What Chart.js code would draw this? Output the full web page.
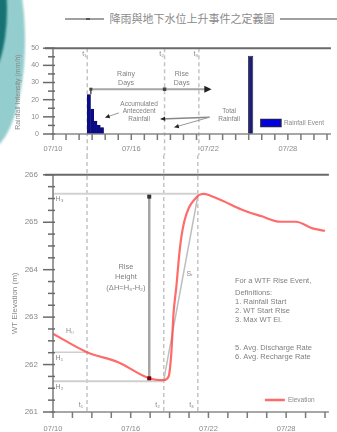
<!DOCTYPE html>
<html>
<head>
<meta charset="utf-8">
<script src="https://cdn.jsdelivr.net/npm/chart.js@4/dist/chart.umd.min.js"></script>
<style>
html,body{margin:0;padding:0;background:#fff;width:337px;height:432px;overflow:hidden;position:relative;font-family:"Liberation Sans",Arial,sans-serif}
#sw1{position:absolute;left:-51px;top:-70px;width:76px;height:220px;border-radius:50%;background:#94cdcd;filter:blur(0.8px)}
#sw2{position:absolute;left:-40px;top:-60px;width:47px;height:140px;border-radius:50%;background:#177373;filter:blur(0.8px)}
#tline{position:absolute;left:65px;top:18px;width:272px;height:2px;background:#a0a0a0}
#tdot{position:absolute;left:86px;top:18px;width:4px;height:2px;background:#555}
#title{position:absolute;top:11px;left:104px;width:176px;text-align:center;font-family:"Noto Sans CJK TC","Noto Sans CJK SC",sans-serif;font-size:11px;line-height:15px;color:#8a8a8a;background:#fff}
#c1{position:absolute;left:0;top:30px}
#c2{position:absolute;left:0;top:155px}
</style>
</head>
<body>
<div id="sw1"></div><div id="sw2"></div>
<div id="tline"></div><div id="tdot"></div>
<div id="title">降雨與地下水位上升事件之定義圖</div>
<canvas id="c1" width="337" height="125"></canvas>
<canvas id="c2" width="337" height="277"></canvas>
<script>
// ---------------- data ----------------
const xTickLabels = ['07/10', '07/16', '07/22', '07/28'];
const eventNames = ['t\u2081', 't\u2082', 't\u2083'];
const eventDays = [2.625, 8.55, 11.18];
const rainDays = [2.75, 3.0, 3.25, 3.5, 3.75];
const rainValues = [23, 14.5, 7.5, 5, 3.8];
const stormDays = [15.15];
const stormValues = [45.6];
const elevDays = [0, 2.63, 5.03, 7.43, 8.55, 8.93, 9.15, 9.30, 9.53, 9.75, 9.9, 10.13, 10.5, 11.03, 11.25, 11.63, 12.15, 13.05, 14.55, 16.05, 17.55, 18.75, 20.03, 21.0];
const elevValues = [262.65, 262.26, 262.05, 261.71, 261.67, 261.75, 262.3, 263.06, 263.66, 264.33, 264.67, 265.01, 265.31, 265.51, 265.57, 265.60, 265.56, 265.46, 265.27, 265.13, 265.01, 265.01, 264.87, 264.82];
const definitionLines = ['For a WTF Rise Event,', 'Definitions:', '1. Rainfall Start', '2. WT Start Rise', '3. Max WT El.', '5. Avg. Discharge Rate', '6. Avg. Recharge Rate'];
const definitionOffsets = [0, 12, 21, 30, 39, 67, 76];

// ---------------- helpers ----------------
const FONT = '"Liberation Sans", Arial, sans-serif';
Chart.defaults.font.family = FONT;
Chart.defaults.color = '#888';
const X_MAX = 21.3;

function seg(ctx, x1, y1, x2, y2, color, w, dash) {
  ctx.save(); ctx.strokeStyle = color; ctx.lineWidth = w; ctx.setLineDash(dash || []);
  ctx.beginPath(); ctx.moveTo(x1, y1); ctx.lineTo(x2, y2); ctx.stroke(); ctx.restore();
}
function head(ctx, x1, y1, x2, y2, color, len) {
  const ang = Math.atan2(y2 - y1, x2 - x1); len = len || 6;
  ctx.save(); ctx.fillStyle = color; ctx.beginPath();
  ctx.moveTo(x2, y2);
  ctx.lineTo(x2 - len * Math.cos(ang - 0.45), y2 - len * Math.sin(ang - 0.45));
  ctx.lineTo(x2 - len * Math.cos(ang + 0.45), y2 - len * Math.sin(ang + 0.45));
  ctx.closePath(); ctx.fill(); ctx.restore();
}
function label(ctx, str, x, y, size, align, color) {
  ctx.save(); ctx.font = size + 'px ' + FONT; ctx.fillStyle = color || '#808080';
  ctx.textAlign = align || 'center'; ctx.textBaseline = 'middle'; ctx.fillText(str, x, y); ctx.restore();
}
function vlabel(ctx, str, x, y, size, color) {
  ctx.save(); ctx.translate(x, y); ctx.rotate(-Math.PI / 2);
  ctx.font = size + 'px ' + FONT; ctx.fillStyle = color || '#808080';
  ctx.textAlign = 'center'; ctx.textBaseline = 'middle'; ctx.fillText(str, 0, 0); ctx.restore();
}
function square(ctx, x, y, s, color) { ctx.save(); ctx.fillStyle = color; ctx.fillRect(x - s / 2, y - s / 2, s, s); ctx.restore(); }
function isInt(v) { return Math.abs(v - Math.round(v)) < 1e-6; }
function elevAt(d) {
  for (let i = 1; i < elevDays.length; i++) {
    if (d <= elevDays[i]) {
      const f = (d - elevDays[i - 1]) / (elevDays[i] - elevDays[i - 1]);
      return elevValues[i - 1] + f * (elevValues[i] - elevValues[i - 1]);
    }
  }
  return elevValues[elevValues.length - 1];
}
function drawFrame(chart, isMajorY) {
  const {ctx, chartArea: a, scales: {x, y}} = chart;
  seg(ctx, a.left - 8, a.top, a.right, a.top, '#6a6a6a', 2);
  seg(ctx, a.left, a.top, a.left, a.bottom, '#7a7a7a', 1.5);
  seg(ctx, a.left - 2, a.bottom, a.right, a.bottom, '#8a8a8a', 1.5);
  y.ticks.forEach(t => {
    const Y = y.getPixelForValue(t.value);
    const L = isMajorY(t.value) ? 10 : 5;
    seg(ctx, a.left - L, Y, a.left + 2, Y, '#6a6a6a', 1.5);
  });
  x.ticks.forEach(t => {
    const X = x.getPixelForValue(t.value);
    seg(ctx, X, a.bottom, X, a.bottom + 6, '#7a7a7a', 1.5);
  });
}
function xAxisCfg(step, labelEvery, pad, h) {
  return {
    type: 'linear', min: 0, max: X_MAX, offset: false,
    grid: {display: false, drawTicks: false}, border: {display: false},
    ticks: {stepSize: step, includeBounds: false, autoSkip: false, maxRotation: 0, padding: pad,
      font: {size: 7.5}, color: '#8a8a8a',
      callback: v => (isInt(v / labelEvery) ? xTickLabels[Math.round(v / labelEvery)] || '' : '')},
    afterFit: s => { s.height = h; }
  };
}

// ---------------- top chart: rainfall ----------------
const topDecor = {
  id: 'topDecor',
  beforeDatasetsDraw(chart) {
    const {ctx, chartArea: a, scales: {x}} = chart;
    eventDays.forEach(d => {
      const X = x.getPixelForValue(d);
      seg(ctx, X, a.top, X, chart.height, '#c4c4c4', 1.5, [4, 3]);
    });
  },
  afterDatasetsDraw(chart) {
    const {ctx, chartArea: a, scales: {x, y}} = chart;
    const P = (d, v) => [x.getPixelForValue(d), y.getPixelForValue(v)];
    drawFrame(chart, v => isInt(v / 10));
    // event labels
    eventDays.forEach((d, i) => { const p = P(d - 0.05, 46.3); label(ctx, eventNames[i], p[0], p[1], 7, 'right', '#8a8a8a'); });
    // rainy / rise days bracket
    const b1 = P(2.9, 26.1), b2 = P(12.15, 26.1), bb = P(2.9, 23.2);
    seg(ctx, b1[0], b1[1], b2[0] - 5, b2[1], '#a6a6a6', 2);
    seg(ctx, b1[0], b1[1], bb[0], bb[1], '#555', 1.5);
    square(ctx, b1[0], b1[1], 3, '#444');
    head(ctx, b1[0], b1[1], b2[0], b2[1], '#222', 8);
    const t2 = P(eventDays[1], 26.1); square(ctx, t2[0], t2[1], 3.5, '#444');
    let p;
    p = P(5.6, 34.8); label(ctx, 'Rainy', p[0], p[1], 7);
    p = P(5.6, 29.4); label(ctx, 'Days', p[0], p[1], 7);
    p = P(9.87, 34.8); label(ctx, 'Rise', p[0], p[1], 7);
    p = P(9.87, 29.4); label(ctx, 'Days', p[0], p[1], 7);
    // accumulated antecedent rainfall
    p = P(6.6, 17.4); label(ctx, 'Accumulated', p[0], p[1], 6.5);
    p = P(6.6, 13.0); label(ctx, 'Antecedent', p[0], p[1], 6.5);
    p = P(6.6, 8.4); label(ctx, 'Rainfall', p[0], p[1], 6.5);
    const a1 = P(5.05, 12.3), a2 = P(4.0, 9.6);
    seg(ctx, a1[0], a1[1], a2[0], a2[1], '#999', 1); head(ctx, a1[0], a1[1], a2[0], a2[1], '#222', 5);
    // total rainfall
    p = P(13.5, 13.0); label(ctx, 'Total', p[0], p[1], 6.5);
    p = P(13.5, 8.6); label(ctx, 'Rainfall', p[0], p[1], 6.5);
    const o = P(12.0, 9.8), e1 = P(8.25, 8.8), e2 = P(9.3, 3.9);
    seg(ctx, o[0], o[1], e1[0], e1[1], '#888', 1.5); head(ctx, o[0], o[1], e1[0], e1[1], '#222', 5);
    seg(ctx, o[0], o[1], e2[0], e2[1], '#999', 1); head(ctx, o[0], o[1], e2[0], e2[1], '#222', 5);
    // legend
    const lx = a.right - 70, ly = a.bottom - 11;
    ctx.save(); ctx.fillStyle = '#0000e6'; ctx.fillRect(lx, ly - 3.5, 20, 7);
    ctx.strokeStyle = '#1c1c5c'; ctx.lineWidth = 1.5; ctx.strokeRect(lx, ly - 3.5, 20, 7); ctx.restore();
    label(ctx, 'Rainfall Event', lx + 23, ly, 6.5, 'left', '#8a8a8a');
    // y title
    vlabel(ctx, 'Rainfall Intensity (mm/h)', 18, (a.top + a.bottom) / 2 + 1, 7, '#8a8a8a');
  }
};

new Chart(document.getElementById('c1'), {
  type: 'bar',
  data: {
    datasets: [
      {label: 'Rainfall Event', data: rainDays.map((d, i) => ({x: d, y: rainValues[i]})),
        backgroundColor: '#0a0a8e', borderColor: '#10105a', borderWidth: 0.6,
        barPercentage: 1, categoryPercentage: 1, grouped: false},
      {label: 'Rainfall Event 2', data: stormDays.map((d, i) => ({x: d, y: stormValues[i]})),
        backgroundColor: '#1c1c70', borderColor: '#2a2a55', borderWidth: 1,
        barPercentage: 1.6, categoryPercentage: 1, grouped: false}
    ]
  },
  options: {
    responsive: false, animation: false,
    layout: {padding: {top: 13, left: 0, right: 0, bottom: 0}},
    plugins: {legend: {display: false}, tooltip: {enabled: false}},
    scales: {
      x: xAxisCfg(1, 6, 10, 21),
      y: {min: 0, max: 50, grid: {display: false, drawTicks: false}, border: {display: false},
        ticks: {stepSize: 5, autoSkip: false, padding: 14, font: {size: 7}, color: '#8a8a8a',
          callback: v => (isInt(v / 10) ? String(v) : '')},
        afterFit: s => { s.width = 53; }}
    }
  },
  plugins: [topDecor]
});

// ---------------- bottom chart: elevation ----------------
const botDecor = {
  id: 'botDecor',
  beforeDatasetsDraw(chart) {
    const {ctx, chartArea: a, scales: {x, y}} = chart;
    const P = (d, v) => [x.getPixelForValue(d), y.getPixelForValue(v)];
    eventDays.forEach(d => {
      const X = x.getPixelForValue(d);
      seg(ctx, X, 0, X, a.bottom, '#c4c4c4', 1.5, [4, 3]);
    });
    const peak = Math.max(...elevValues);
    const h1 = elevAt(eventDays[0]), h2 = elevAt(eventDays[1]);
    let p, q;
    p = P(0, peak); q = P(eventDays[2], peak); seg(ctx, a.left, p[1], q[0], q[1], '#d2d2d2', 2);
    p = P(0, h2); q = P(eventDays[1], h2); seg(ctx, a.left, p[1] + 1, q[0], q[1] + 1, '#cfcfcf', 2);
    p = P(0, h1); q = P(eventDays[0], h1); seg(ctx, a.left, p[1], q[0], q[1], '#cfcfcf', 1.5);
    // rise height dimension
    p = P(elevDays[3], elevValues[3]); q = P(elevDays[3], peak - 0.06);
    seg(ctx, p[0], p[1], q[0], q[1], '#a4a4a4', 2.5);
    // rise slope
    p = P(eventDays[1], h2); q = P(eventDays[2], elevAt(eventDays[2]));
    seg(ctx, p[0], p[1], q[0], q[1], '#bdbdbd', 1.5);
  },
  afterDatasetsDraw(chart) {
    const {ctx, chartArea: a, scales: {x, y}} = chart;
    const P = (d, v) => [x.getPixelForValue(d), y.getPixelForValue(v)];
    drawFrame(chart, v => isInt(v));
    const peak = Math.max(...elevValues);
    let p;
    p = P(elevDays[3], peak - 0.06); square(ctx, p[0], p[1], 4, '#333');
    p = P(elevDays[3], elevValues[3]); square(ctx, p[0], p[1], 4, '#7a0000');
    // event labels
    eventDays.forEach((d, i) => { const q = P(d - 0.3, 261.14); label(ctx, eventNames[i], q[0], q[1], 7, 'right', '#8a8a8a'); });
    // H labels
    p = P(0.2, peak - 0.12); label(ctx, 'H\u2083', p[0], p[1], 7, 'left', '#8a8a8a');
    p = P(1.0, 262.7); label(ctx, 'H\u2080', p[0], p[1], 7, 'left', '#8a8a8a');
    p = P(0.2, 262.13); label(ctx, 'H\u2081', p[0], p[1], 7, 'left', '#8a8a8a');
    p = P(0.2, 261.53); label(ctx, 'H\u2082', p[0], p[1], 7, 'left', '#8a8a8a');
    // rise height text
    p = P(5.63, 264.06); label(ctx, 'Rise', p[0], p[1], 7.5);
    p = P(5.63, 263.85); label(ctx, 'Height', p[0], p[1], 7.5);
    p = P(5.63, 263.62); label(ctx, '(\u0394H=H\u2083-H\u2082)', p[0], p[1], 7.5);
    p = P(10.3, 263.9); label(ctx, 'S\u1d63', p[0], p[1], 7, 'left', '#8a8a8a');
    // definition text block
    const bx = a.left + 182, by = a.top + 106;
    definitionLines.forEach((s, i) => label(ctx, s, bx, by + definitionOffsets[i], 7.5, 'left', '#808080'));
    // legend
    const lx = a.right - 64, ly = a.bottom - 12;
    seg(ctx, lx, ly, lx + 20, ly, 'rgba(255,80,80,0.85)', 2.5);
    label(ctx, 'Elevation', lx + 23, ly, 6.5, 'left', '#8a8a8a');
    // y title
    vlabel(ctx, 'WT Elevation (m)', 15, (a.top + a.bottom) / 2 + 10, 8, '#8a8a8a');
  }
};

new Chart(document.getElementById('c2'), {
  type: 'line',
  data: {
    datasets: [{
      label: 'Elevation', data: elevDays.map((d, i) => ({x: d, y: elevValues[i]})),
      borderColor: 'rgba(255,70,70,0.8)', borderWidth: 2.2, pointRadius: 0,
      cubicInterpolationMode: 'monotone', fill: false
    }]
  },
  options: {
    responsive: false, animation: false,
    layout: {padding: {top: 10, left: 0, right: 0, bottom: 0}},
    plugins: {legend: {display: false}, tooltip: {enabled: false}},
    scales: {
      x: xAxisCfg(1.5, 6, 12, 20),
      y: {min: 261, max: 266, grid: {display: false, drawTicks: false}, border: {display: false},
        ticks: {stepSize: 0.25, autoSkip: false, padding: 15, font: {size: 8}, color: '#8a8a8a',
          callback: v => (isInt(v) ? String(Math.round(v)) : '')},
        afterFit: s => { s.width = 53; }}
    }
  },
  plugins: [botDecor]
});
</script>
</body>
</html>
